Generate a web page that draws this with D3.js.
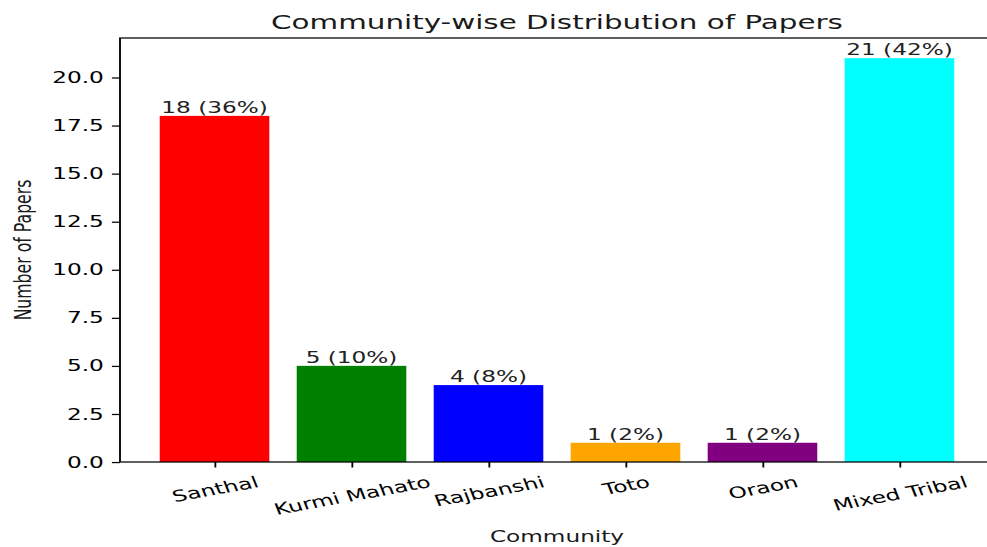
<!DOCTYPE html>
<html>
<head>
<meta charset="utf-8">
<script src="https://cdn.jsdelivr.net/npm/d3@7"></script>
<style>
  html, body { margin: 0; padding: 0; background: #fff; }
  svg { display: block; }
  text { font-family: "DejaVu Sans", sans-serif; fill: #000; }
</style>
</head>
<body>
<svg id="chart" width="987" height="547"></svg>
<script>
// Papers per community
const communities = ["Santhal", "Kurmi Mahato", "Rajbanshi", "Toto", "Oraon", "Mixed Tribal"];
const paperCounts = [18, 5, 4, 1, 1, 21];
const barColors = ["#ff0000", "#008000", "#0000ff", "#ffa500", "#800080", "#00ffff"];
const yTickValues = [0, 2.5, 5, 7.5, 10, 12.5, 15, 17.5, 20];

const title = "Community-wise Distribution of Papers";
const xTitle = "Community";
const yTitle = "Number of Papers";

// The figure is drawn in its own units and then stretched to fill the frame
const SX = 1.67, SY = 1.13;
const fontPx = 13.9;
const plot = { left: 120 / SX, right: 994 / SX, top: 38 / SY, bottom: 462 / SY };

const svg = d3.select("#chart");
svg.append("rect").attr("width", 987).attr("height", 547).attr("fill", "#fff");
const g = svg.append("g").attr("transform", `scale(${SX},${SY})`);

const total = d3.sum(paperCounts);
const n = communities.length;
const barWidth = 0.8;
const span = (n - 1) + barWidth;
const pad = 0.05 * span;

const x = d3.scaleLinear()
  .domain([-barWidth / 2 - pad, n - 1 + barWidth / 2 + pad])
  .range([plot.left, plot.right]);
const y = d3.scaleLinear()
  .domain([0, d3.max(paperCounts) * 1.05])
  .range([plot.bottom, plot.top]);

// Bars
g.selectAll("rect.bar")
  .data(paperCounts)
  .join("rect")
  .attr("class", "bar")
  .attr("x", (d, i) => x(i - barWidth / 2))
  .attr("width", (d, i) => x(i + barWidth / 2) - x(i - barWidth / 2))
  .attr("y", d => y(d))
  .attr("height", d => y(0) - y(d))
  .attr("fill", (d, i) => barColors[i]);

// Count and share above each bar
g.selectAll("text.bar-label")
  .data(paperCounts)
  .join("text")
  .attr("class", "bar-label")
  .attr("x", (d, i) => x(i))
  .attr("y", d => y(d) - 2.4)
  .attr("text-anchor", "middle")
  .style("font-size", fontPx + "px")
  .style("fill", "#222")
  .text(d => `${d} (${Math.round(d / total * 100)}%)`);

// Y axis
const yAxis = g.append("g")
  .attr("transform", `translate(${plot.left},0)`)
  .call(d3.axisLeft(y).tickValues(yTickValues).tickFormat(d3.format(".1f"))
    .tickSize(4.86).tickPadding(4.86));
yAxis.select(".domain").remove();
yAxis.selectAll(".tick line").attr("stroke", "#000").attr("stroke-width", 1.1);
yAxis.selectAll(".tick text")
  .style("font-size", fontPx + "px")
  .style("font-family", "DejaVu Sans")
  .attr("fill", "#222");

// X axis with tilted category labels
const xAxis = g.append("g")
  .attr("transform", `translate(0,${plot.bottom})`)
  .call(d3.axisBottom(x).tickValues(d3.range(n)).tickFormat(i => communities[i])
    .tickSize(4.86).tickPadding(4.86));
xAxis.select(".domain").remove();
xAxis.selectAll(".tick line").attr("stroke", "#000").attr("stroke-width", 1.1);
const angle = 15 * Math.PI / 180;
xAxis.selectAll(".tick text")
  .style("font-size", fontPx + "px")
  .style("font-family", "DejaVu Sans")
  .attr("fill", "#222")
  .attr("text-anchor", "middle")
  .attr("dy", null)
  .attr("dominant-baseline", "central")
  .each(function () {
    const w = this.getComputedTextLength();
    const h = fontPx * 1.16;
    const boxH = w * Math.sin(angle) + h * Math.cos(angle);
    const cy = 4.86 + 4.86 + boxH / 2;
    d3.select(this)
      .attr("y", 0)
      .attr("transform", `translate(0,${cy}) rotate(-15)`);
  });

// Frame
const frame = g.append("g").attr("stroke", "#000").attr("stroke-width", 1.1).attr("fill", "none");
frame.append("rect")
  .attr("x", plot.left).attr("y", plot.top)
  .attr("width", plot.right - plot.left).attr("height", plot.bottom - plot.top);

// Titles
g.append("text")
  .attr("x", (plot.left + plot.right) / 2)
  .attr("y", 29.5 / SY)
  .attr("text-anchor", "middle")
  .style("font-size", "17.6px")
  .style("fill", "#1a1a1a")
  .text(title);

g.append("text")
  .attr("x", (plot.left + plot.right) / 2)
  .attr("y", 542 / SY)
  .attr("text-anchor", "middle")
  .style("font-size", fontPx + "px")
  .style("fill", "#1a1a1a")
  .text(xTitle);

g.append("text")
  .attr("transform", `translate(${31 / SX},${(plot.top + plot.bottom) / 2}) rotate(-90)`)
  .attr("text-anchor", "middle")
  .style("font-size", fontPx + "px")
  .style("fill", "#1a1a1a")
  .text(yTitle);
</script>
</body>
</html>
